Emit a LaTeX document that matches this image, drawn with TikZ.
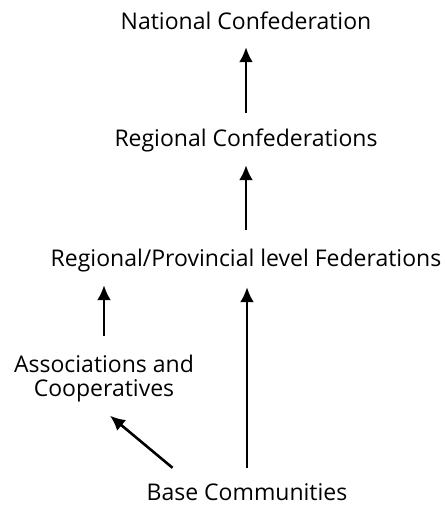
\documentclass[tikz,border=0pt]{standalone}
\usepackage{fontspec}
\setmainfont{Open Sans}
\usetikzlibrary{calc, positioning, arrows.meta}

\begin{document}
\begin{tikzpicture}[x=1pt, y=1pt,
    lbl/.style={inner sep=0pt, font=\fontsize{23}{24}\selectfont},
    tall/.style={text height=17pt, text depth=5pt},
    link/.style={line width=2.6pt, -{Latex[length=15pt, width=14pt]}}]
    \useasboundingbox (0,0) rectangle (445,505);

    \node[lbl, tall, anchor=base] (NC) at (246,475) {National Confederation};
    \node[lbl, tall, anchor=base] (RC) at (246,358) {Regional Confederations};
    \node[lbl, tall, anchor=base] (RF) at (246,238) {Regional/Provincial level Federations};
    \node[lbl, align=center] (AC) at (104,126) {Associations and\\Cooperatives};
    \node[lbl, tall, anchor=base] (BC) at (247,5) {Base Communities};

    \draw (RC) edge[link, shorten <=17pt, shorten >=12pt] (NC);
    \draw (RF) edge[link, shorten <=20pt, shorten >=13pt] (RC);
    \draw[link, shorten <=19pt, shorten >=13pt] (AC.north) -- (AC.north |- RF.south);
    \draw[link, shorten <=15pt, shorten >=15pt] (BC.north) -- (BC.north |- RF.south);
    \draw[link] ([shift={(26,15)}]BC.north west) -- ([shift={(6,-13)}]AC.south);
\end{tikzpicture}
\end{document}
